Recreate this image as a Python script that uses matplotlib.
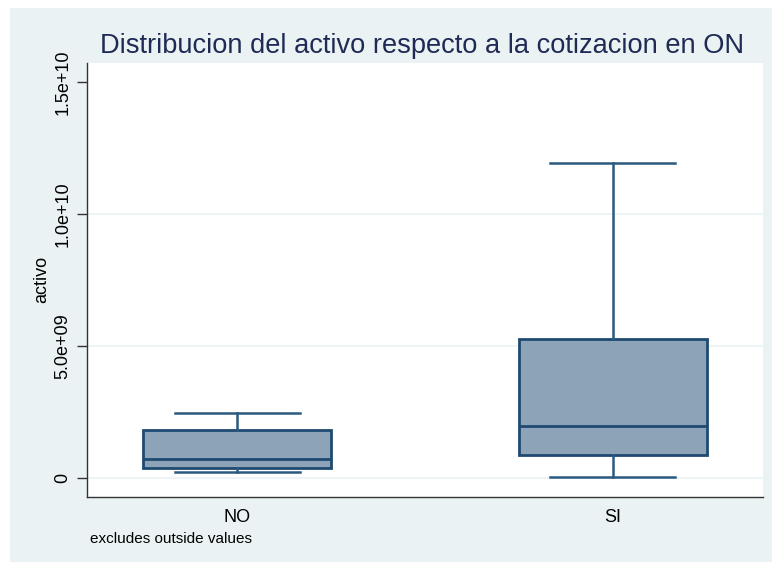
import matplotlib.pyplot as plt
from matplotlib.patches import Rectangle

plt.rcParams['font.family'] = ['Liberation Sans', 'DejaVu Sans']

# box statistics (values in units of activo)
groups = ['NO', 'SI']
whisker_low = [0.24e9, 0.04e9]
q1 = [0.39e9, 0.86e9]
median = [0.72e9, 1.98e9]
q3 = [1.82e9, 5.28e9]
whisker_high = [2.46e9, 11.92e9]

yticks = [0, 5e9, 1e10, 1.5e10]
ytick_labels = ['0', '5.0e+09', '1.0e+10', '1.5e+10']

bg = '#eaf2f3'
navy = '#1f4a72'
fill = '#8da3b7'

fig = plt.figure(figsize=(7.72, 5.64), dpi=100)
fig.patch.set_facecolor('white')
fig.patches.append(Rectangle((10 / 772, 2 / 564), 762 / 772, 554 / 564,
                             transform=fig.transFigure, facecolor=bg,
                             edgecolor='none', zorder=-10))

ax = fig.add_axes([87 / 772, 1 - 497 / 564, 676 / 772, 434 / 564])
ax.set_facecolor('white')

stats = []
for i, g in enumerate(groups):
    stats.append({'label': g, 'whislo': whisker_low[i], 'q1': q1[i],
                  'med': median[i], 'q3': q3[i], 'whishi': whisker_high[i],
                  'fliers': []})

ax.bxp(stats, positions=[1, 2], widths=0.5, capwidths=0.333,
       patch_artist=True, showfliers=False,
       boxprops=dict(facecolor=fill, edgecolor=navy, linewidth=2),
       medianprops=dict(color=navy, linewidth=2),
       whiskerprops=dict(color='#2b5a80', linewidth=1.8),
       capprops=dict(color='#2b5a80', linewidth=1.8))

for y in yticks[:3]:
    ax.axhline(y, color=bg, linewidth=1.2, zorder=0)

ax.set_xlim(0.6, 2.4)
ax.set_ylim(-0.72e9, 15.72e9)
ax.set_yticks(yticks)
ax.set_yticklabels(ytick_labels, rotation=90, va='center', fontsize=13)
ax.set_xticks([1, 2])
ax.set_xticklabels(groups, fontsize=13)
ax.tick_params(axis='x', length=0, pad=9)
ax.tick_params(axis='y', length=7, width=1, color='#333333', pad=4)

for s in ['top', 'right']:
    ax.spines[s].set_visible(False)
for s in ['left', 'bottom']:
    ax.spines[s].set_color('#333333')
    ax.spines[s].set_linewidth(1)

ax.set_ylabel('activo', fontsize=13, va='center')
ax.yaxis.set_label_coords(-45 / 676, (497 - 279) / 434)
fig.text(100 / 772, 1 - 53 / 564, 'Distribucion del activo respecto a la cotizacion en ON',
         fontsize=19.6, color='#1f2b55', va='baseline', ha='left')
fig.text(90 / 772, 1 - 543 / 564, 'excludes outside values', fontsize=11,
         va='baseline', ha='left')

fig.savefig('out.png', dpi=100)
